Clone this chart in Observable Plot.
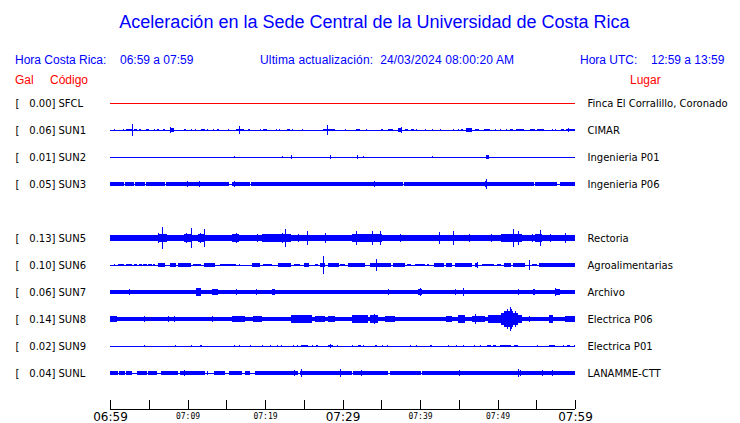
<!DOCTYPE html>
<html><head><meta charset="utf-8">
<script src="https://cdn.jsdelivr.net/npm/d3@7"></script>
<script src="https://cdn.jsdelivr.net/npm/@observablehq/plot@0.6"></script>
<style>
body{margin:0;background:#fff;}
#wrap{position:relative;width:740px;height:423px;overflow:hidden;background:#fff;}
#head{position:relative;width:740px;height:88px;font-family:"Liberation Sans",Arial,sans-serif;}
#head div{position:absolute;white-space:pre;}
.blue{color:#0000ff;}
.red{color:#ff0000;}
.h{font-size:12px;line-height:14px;}
#title{left:0;width:740px;text-align:center;top:11px;font-size:18px;line-height:22px;padding-left:9px;box-sizing:border-box;}
</style></head>
<body><div id="wrap">
<div id="head">
<div id="title" class="blue">Aceleración en la Sede Central de la Universidad de Costa Rica</div>
<div class="blue h" style="left:15px;top:53px">Hora Costa Rica:</div>
<div class="blue h" style="left:120px;top:53px">06:59 a 07:59</div>
<div class="blue h" style="left:260px;top:53px;letter-spacing:0.15px">Ultima actualización:  24/03/2024 08:00:20 AM</div>
<div class="blue h" style="left:580px;top:53px">Hora UTC:</div>
<div class="blue h" style="left:651px;top:53px">12:59 a 13:59</div>
<div class="red h" style="left:15px;top:73px">Gal</div>
<div class="red h" style="left:50px;top:73px">Código</div>
<div class="red h" style="left:630px;top:73px">Lugar</div>
</div>
<div id="chart"></div>
</div>
<script>
// ---- data ----
const codes  = ["SFCL","SUN1","SUN2","SUN3","SUN5","SUN6","SUN7","SUN8","SUN9","SUNL"];
const rows   = [0,1,2,3,5,6,7,8,9,10];
const gal    = [0.00,0.06,0.01,0.05,0.13,0.10,0.06,0.14,0.02,0.04];
const places = ["Finca El Corralillo, Coronado","CIMAR","Ingenieria P01","Ingenieria P06","Rectoria","Agroalimentarias","Archivo","Electrica P06","Electrica P01","LANAMME-CTT"];
// background (noise) half-amplitude per trace
const baseAmp = [0,0,0,0,0.095,0,0.062,0.08,0,0];

// minutes after 06:59
const tickMinutes = [0,5,10,15,20,25,30,35,40,45,50,55,60];
const majorMinutes = [0,30,60];
const majorLabels = ["06:59","07:29","07:59"];
const minorMinutes = [10,20,40,50];
const minorLabels = ["07:09","07:19","07:39","07:49"];

// bursts: [start min, end min, half amplitude]; spikes: [min, half amplitude]
const burstsSUN1 = [[2.0,2.8,0.05],[3.1,3.5,0.05],[3.8,4.0,0.04],[4.7,5.0,0.04],[6.1,6.3,0.04],[6.8,7.1,0.04],[7.7,8.2,0.07],[9.6,9.85,0.05],[10.4,10.6,0.04],[11.8,12.3,0.05],[13.8,14.0,0.04],[16.3,17.3,0.05],[17.8,18.1,0.04],[19.8,20.3,0.05],[22.9,23.2,0.05],[27.5,29.0,0.05],[31.7,32.2,0.05],[33.0,33.2,0.05],[35.0,35.2,0.05],[35.9,36.5,0.05],[37.1,37.7,0.07],[38.1,38.5,0.05],[38.8,39.2,0.05],[45.3,45.5,0.04],[45.9,46.7,0.07],[47.1,47.6,0.04],[48.3,49.0,0.05],[51.6,52.0,0.05],[52.4,53.4,0.05],[54.2,54.8,0.04],[55.1,56.0,0.05],[58.2,58.6,0.04],[58.9,60,0.05]];
const spikesSUN1 = [[0.5,0.04],[1.7,0.04],[2.9,0.22],[5.7,0.04],[7.7,0.12],[11.0,0.04],[12.5,0.04],[13.3,0.04],[15.2,0.04],[16.7,0.16],[19.4,0.04],[21.4,0.04],[21.8,0.04],[23.5,0.04],[24.8,0.03],[28.0,0.17],[30.3,0.03],[37.5,0.1],[39.5,0.04],[40.7,0.03],[41.5,0.04],[42.6,0.04],[44.3,0.03],[44.9,0.04],[46.2,0.09],[49.7,0.03],[50.3,0.04],[51.1,0.04],[57.0,0.04],[57.4,0.04],[59.1,0.09]];
const burstsSUN2 = [[48.5,48.9,0.06]];
const spikesSUN2 = [[16.0,0.03],[22.2,0.03],[23.4,0.07],[28.4,0.07],[31.9,0.07],[32.6,0.03],[41.5,0.03]];
const burstsSUN3 = [[0,1.85,0.07],[1.95,3.1,0.07],[3.2,4.4,0.07],[4.6,7.1,0.07],[7.2,15.3,0.07],[15.8,18.1,0.07],[18.25,37.8,0.07],[37.95,54.75,0.07],[54.85,57.7,0.07],[58.0,60,0.07],[9.7,10.0,0.09],[34.0,34.3,0.09],[48.4,48.7,0.11]];
const spikesSUN3 = [[4.4,0.08],[9.9,0.12],[11.5,0.1],[16.0,0.1],[22.1,0.09],[23.5,0.08],[27.5,0.08],[31.9,0.08],[32.6,0.09],[34.1,0.1],[39.9,0.08],[42.4,0.08],[48.5,0.17],[52.3,0.08]];
const burstsSUN5 = [[0,1.1,0.11],[4.5,5.8,0.11],[6.2,7.3,0.14],[9.5,10.5,0.15],[11.4,12.25,0.15],[15.7,16.6,0.13],[19.6,23.4,0.13],[23.9,25.6,0.12],[27.5,28.2,0.11],[31.2,35.1,0.13],[36.8,37.6,0.11],[41.9,42.8,0.11],[44.1,44.9,0.11],[45.6,46.7,0.11],[50.5,53.1,0.15],[54.8,55.7,0.13],[56.1,60,0.11]];
const spikesSUN5 = [[6.2,0.2],[6.75,0.41],[9.85,0.2],[10.4,0.37],[11.65,0.2],[12.1,0.35],[16.2,0.17],[19.0,0.15],[19.6,0.15],[21.5,0.16],[22.2,0.2],[22.6,0.33],[24.3,0.16],[25.4,0.27],[27.7,0.2],[31.7,0.26],[33.8,0.25],[34.8,0.27],[37.4,0.15],[42.4,0.23],[44.3,0.27],[46.3,0.15],[49.2,0.15],[51.0,0.15],[52.0,0.33],[52.7,0.25],[54.4,0.15],[55.5,0.3],[56.8,0.16],[58.7,0.2]];
const burstsSUN6 = [[1.0,1.85,0.05],[2.0,2.8,0.05],[3.1,3.5,0.05],[3.8,4.1,0.05],[4.3,4.8,0.05],[4.95,5.4,0.05],[5.55,5.8,0.05],[6.2,7.1,0.06],[7.8,8.5,0.07],[8.8,10.4,0.06],[10.7,11.7,0.05],[12.1,13.5,0.06],[14.2,15.3,0.05],[15.4,16.2,0.05],[18.3,19.4,0.07],[19.7,20.9,0.05],[21.7,23.4,0.06],[23.8,24.5,0.05],[25.0,25.7,0.07],[26.5,26.9,0.05],[27.1,27.8,0.09],[28.1,29.5,0.06],[29.7,30.3,0.05],[30.75,32.9,0.06],[33.6,36.2,0.06],[36.5,38.1,0.06],[38.3,38.8,0.05],[39.3,40.6,0.05],[40.9,41.2,0.05],[41.8,43.1,0.06],[43.4,44.1,0.07],[44.5,46.7,0.06],[47.1,47.5,0.08],[48.0,49.6,0.05],[49.9,50.4,0.05],[50.8,51.7,0.06],[52.0,53.5,0.06],[54.4,55.1,0.05],[55.3,60,0.06]];
const spikesSUN6 = [[0.5,0.03],[16.6,0.03],[27.5,0.33],[34.3,0.22],[54.0,0.17],[8.0,0.09],[25.3,0.08],[18.6,0.08],[44.0,0.08],[47.3,0.1],[35.5,0.08]];
const burstsSUN7 = [[7.8,8.4,0.08],[11.05,11.8,0.13],[13.2,13.9,0.1],[15.35,16.6,0.08],[17.4,18.3,0.08],[19.6,20.0,0.08],[20.9,21.3,0.1],[24.0,24.4,0.09],[25.0,25.6,0.08],[30.3,31.0,0.07],[32.6,32.9,0.07],[34.2,35.1,0.07],[38.1,38.5,0.07],[39.7,40.2,0.11],[41.8,42.2,0.08],[42.8,43.7,0.07],[46.2,46.7,0.08],[51.5,52.3,0.08],[53.5,53.8,0.08],[54.6,54.9,0.1],[55.8,56.1,0.08],[57.4,58.1,0.11]];
const spikesSUN7 = [[2.45,0.1],[3.6,0.07],[4.95,0.07],[5.9,0.07],[6.3,0.07],[9.5,0.08],[11.4,0.16],[14.75,0.08],[16.2,0.12],[18.9,0.12],[21.9,0.09],[26.5,0.08],[28.3,0.08],[33.3,0.07],[35.9,0.1],[37.2,0.07],[40.0,0.15],[40.6,0.07],[44.5,0.12],[45.5,0.15],[47.7,0.08],[52.7,0.1],[57.4,0.15],[58.7,0.08]];
const burstsSUN8 = [[0,0.85,0.11],[6.9,8.6,0.09],[9.7,12.3,0.09],[15.7,17.4,0.1],[18.5,19.6,0.1],[19.6,20.9,0.09],[23.4,26.0,0.13],[26.5,27.7,0.1],[28.1,29.0,0.11],[29.5,30.3,0.09],[31.2,33.3,0.13],[33.6,34.6,0.13],[35.5,36.8,0.1],[38.1,38.9,0.09],[41.1,42.8,0.09],[43.4,44.1,0.1],[44.9,45.8,0.13],[46.7,48.4,0.11],[48.8,50.1,0.13],[50.1,53.1,0.16],[50.5,52.7,0.22],[51.0,52.0,0.3],[56.6,57.2,0.14],[58.7,60,0.1]];
const spikesSUN8 = [[2.7,0.09],[4.4,0.1],[7.5,0.12],[8.2,0.12],[13.2,0.1],[24.9,0.15],[32.5,0.13],[34.0,0.17],[45.4,0.16],[47.1,0.18],[50.8,0.28],[51.2,0.36],[51.6,0.44],[51.8,0.38],[52.3,0.3],[54.0,0.11],[56.9,0.15]];
const burstsSUN9 = [[19.6,19.8,0.05],[21.5,21.7,0.04],[23.6,23.8,0.04],[24.7,25.6,0.05],[26.6,26.9,0.04],[28.1,28.8,0.05],[32.0,32.4,0.04],[34.2,34.5,0.04],[41.3,41.5,0.05],[48.6,49.2,0.05],[49.4,49.8,0.04],[50.3,51.8,0.05],[52.1,52.7,0.04],[56.6,57.4,0.05],[59.0,59.3,0.04]];
const spikesSUN9 = [[4.4,0.05],[8.4,0.05],[10.4,0.03],[11.6,0.04],[11.8,0.03],[16.0,0.03],[16.6,0.03],[18.0,0.03],[20.7,0.04],[22.1,0.04],[24.1,0.04],[26.0,0.03],[28.4,0.07],[29.3,0.03],[31.2,0.04],[32.7,0.04],[35.1,0.03],[35.8,0.03],[38.7,0.03],[39.5,0.04],[43.6,0.03],[44.6,0.03],[45.5,0.03],[47.0,0.04],[47.7,0.04],[55.1,0.04],[58.4,0.03],[59.9,0.05]];
const burstsSUNL = [[0,1.0,0.07],[1.2,1.8,0.07],[2.0,2.8,0.07],[3.5,4.2,0.07],[4.3,4.8,0.07],[4.95,6.1,0.07],[6.6,8.8,0.07],[9.0,12.3,0.07],[13.4,14.8,0.07],[15.4,17.0,0.07],[17.4,18.1,0.07],[18.7,23.4,0.07],[23.4,24.3,0.09],[24.5,25.6,0.08],[25.6,31.2,0.07],[31.3,35.9,0.07],[36.1,40.0,0.07],[40.2,60,0.07]];
const spikesSUNL = [[1.85,0.08],[4.35,0.09],[5.55,0.08],[9.6,0.12],[10.1,0.09],[11.6,0.08],[12.5,0.07],[13.5,0.07],[16.7,0.09],[19.7,0.09],[23.8,0.1],[24.7,0.15],[26.5,0.09],[28.3,0.09],[29.7,0.14],[32.4,0.1],[39.4,0.09],[40.0,0.09],[45.0,0.1],[47.4,0.09],[48.6,0.09],[52.6,0.14],[52.9,0.1],[55.7,0.1],[57.0,0.12],[59.4,0.08],[59.7,0.08]];

const burstSets = [[],burstsSUN1,burstsSUN2,burstsSUN3,burstsSUN5,burstsSUN6,burstsSUN7,burstsSUN8,burstsSUN9,burstsSUNL];
const spikeSets = [[],spikesSUN1,spikesSUN2,spikesSUN3,spikesSUN5,spikesSUN6,spikesSUN7,spikesSUN8,spikesSUN9,spikesSUNL];

// ---- tables built from the arrays ----
const stations = codes.map((c,i)=>({code:c,row:rows[i],gal:gal[i],place:places[i]}));
const rects = [], spikes = [];
codes.forEach((c,i)=>{
  const r = rows[i];
  if (baseAmp[i] > 0) rects.push({x1:0,x2:60,y1:r-baseAmp[i],y2:r+baseAmp[i]});
  burstSets[i].forEach(([a,b,amp])=>rects.push({x1:a,x2:b,y1:r-amp,y2:r+amp}));
  spikeSets[i].forEach(([t,amp])=>spikes.push({x:t,y1:r-amp,y2:r+amp}));
});
const axisRow = 11.333;
const T = 60;

const chart = Plot.plot({
  width:740, height:335,
  marginLeft:110, marginRight:165, marginTop:15, marginBottom:14,
  style:{background:"white", overflow:"visible"},
  x:{domain:[0,T], axis:null},
  y:{domain:[0,axisRow], reverse:true, axis:null},
  marks:[
    Plot.ruleY(stations.filter(d=>d.code!=="SFCL"), {y:"row", x1:0, x2:T, stroke:"#0000ff", strokeWidth:1, shapeRendering:"crispEdges"}),
    Plot.ruleY(stations.filter(d=>d.code==="SFCL"), {y:"row", x1:0, x2:T, stroke:"#ff0000", strokeWidth:1, shapeRendering:"crispEdges"}),
    Plot.rect(rects, {x1:"x1", x2:"x2", y1:"y1", y2:"y2", fill:"#0000ff", shapeRendering:"crispEdges"}),
    Plot.ruleX(spikes, {x:"x", y1:"y1", y2:"y2", stroke:"#0000ff", strokeWidth:1, shapeRendering:"crispEdges"}),
    // station labels
    Plot.text(stations, {frameAnchor:"left", y:"row", text:()=>"[", dx:-95, textAnchor:"start", fontFamily:"DejaVu Sans", fontSize:10, fill:"black"}),
    Plot.text(stations, {frameAnchor:"left", y:"row", text:d=>d.gal.toFixed(2)+"]", dx:-55, textAnchor:"end", fontFamily:"DejaVu Sans", fontSize:10, fill:"black"}),
    Plot.text(stations, {frameAnchor:"left", y:"row", text:"code", dx:-52, textAnchor:"start", fontFamily:"DejaVu Sans", fontSize:10, fill:"black"}),
    Plot.text(stations, {frameAnchor:"right", y:"row", text:"place", dx:12, textAnchor:"start", fontFamily:"DejaVu Sans", fontSize:10, fill:"black"}),
    // time axis
    Plot.ruleY([axisRow], {x1:0, x2:T, stroke:"black", shapeRendering:"crispEdges"}),
    Plot.ruleX(tickMinutes, {x:d=>d, y1:axisRow-0.333, y2:axisRow, stroke:"black", shapeRendering:"crispEdges"}),
    Plot.text(minorMinutes, {x:d=>d, y:axisRow, dy:7, text:(d,i)=>minorLabels[i], fontFamily:"DejaVu Sans Mono", fontSize:8, fill:"black"}),
    Plot.text(majorMinutes, {x:d=>d, y:axisRow, dy:8, text:(d,i)=>majorLabels[i], fontFamily:"DejaVu Sans", fontSize:12, letterSpacing:"0.5px", fill:"black"})
  ]
});
document.getElementById("chart").appendChild(chart);
</script>
</body></html>
